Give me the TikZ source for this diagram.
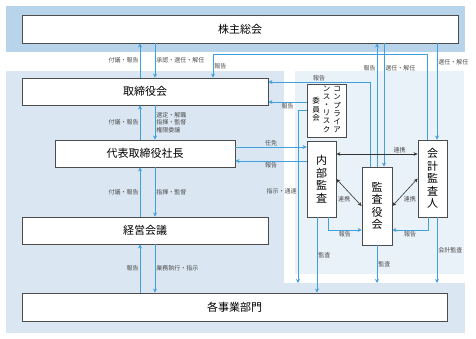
\documentclass[tikz,border=0pt]{standalone}
\usepackage{fontspec}
\setmainfont{Noto Sans CJK JP}
\usepackage{xcolor}
\usepackage{tikz}
\usetikzlibrary{arrows.meta, calc}

\definecolor{bandblue}{HTML}{B7D4EB}
\definecolor{panelblue}{HTML}{DAE7F3}
\definecolor{auditblue}{HTML}{E9F1F9}
\definecolor{flowblue}{HTML}{3FA0DC}

\begin{document}
\begin{tikzpicture}[
  x=1pt, y=-1pt,
  orgbox/.style={draw=black!70, fill=white, line width=0.8pt, inner sep=0pt, align=center, font=\fontsize{11}{12.5}\selectfont},
  flow/.style={flowblue, line width=0.8pt, -{Stealth[length=4pt,width=4pt]}},
  link/.style={black!80, line width=0.6pt, {Stealth[length=4pt,width=3.5pt]}-{Stealth[length=4pt,width=3.5pt]}},
  lab/.style={font=\fontsize{6}{7.5}\selectfont, inner sep=1pt, text=black!70}
]
\useasboundingbox (0,0) rectangle (476,339);
% background panels
\fill[bandblue] (6,6) rectangle (465,52);
\fill[panelblue] (6,71) rectangle (465,333);
\fill[white] (284,71) rectangle (465,283);
\fill[auditblue] (295,71) rectangle (464,274);

% organisation boxes
\node[orgbox, minimum width=436pt, minimum height=28pt] (sokai) at (240,29) {株主総会};
\node[orgbox, minimum width=246pt, minimum height=27pt] (torishimari) at (145,91.5) {取締役会};
\node[orgbox, minimum width=180pt, minimum height=27pt] (daihyo) at (145,153.5) {代表取締役社長};
\node[orgbox, minimum width=246pt, minimum height=27pt] (keiei) at (145,230.5) {経営会議};
\node[orgbox, minimum width=425pt, minimum height=28pt] (jigyo) at (234.5,307) {各事業部門};
\node[orgbox, minimum width=39pt, minimum height=53pt, font=\fontsize{7.5}{8}\selectfont] (compliance) at (326.5,110.5)
  {\begin{tabular}{@{}c@{}}委\\員\\会\end{tabular}\hspace{3pt}\begin{tabular}{@{}c@{}}ン\\ス\\・\\リ\\ス\\ク\end{tabular}\hspace{3pt}\begin{tabular}{@{}c@{}}コ\\ン\\プ\\ラ\\イ\\ア\end{tabular}};
\node[orgbox, minimum width=29pt, minimum height=76pt] (naibu) at (321.5,179) {内\\部\\監\\査};
\node[orgbox, minimum width=30pt, minimum height=78pt] (kansayaku) at (377,206) {監\\査\\役\\会};
\node[orgbox, minimum width=29pt, minimum height=77pt] (kaikei) at (432.5,178.5) {会\\計\\監\\査\\人};

% routing points
\coordinate (up) at (140,0);
\coordinate (down) at (155,0);
\coordinate (kk) at (427,54);
\coordinate (kt) at (213,54);
\coordinate (ks) at (437,0);
\coordinate (kup) at (377,0);
\coordinate (kdn) at (384,0);
\coordinate (ky) at (370,82);
\coordinate (crep) at (0,102);
\coordinate (cx) at (298,110);
\coordinate (cend) at (298,283);
\coordinate (ninmen) at (0,147);
\coordinate (nrep) at (0,161);
\coordinate (renkei) at (0,154);
\coordinate (nb) at (328,230);
\coordinate (kb) at (428,230);
\coordinate (na) at (317,0);
\coordinate (ka) at (377,283);
\coordinate (kka) at (437,283);

% left column
\draw[flow] (torishimari.north -| up) -- node[lab, left] {付議・報告} (sokai.south -| up);
\draw[flow] (sokai.south -| down) -- node[lab, right] {承認・選任・解任} (torishimari.north -| down);
\draw[flow] (daihyo.north -| up) -- node[lab, left] {付議・報告} (torishimari.south -| up);
\draw[flow] (torishimari.south -| down) -- node[lab, right, align=left, font=\fontsize{6}{7.5}\selectfont] {選定・解職\\指揮・監督\\権限委譲} (daihyo.north -| down);
\draw[flow] (keiei.north -| up) -- node[lab, left] {付議・報告} (daihyo.south -| up);
\draw[flow] (daihyo.south -| down) -- node[lab, right] {指揮・監督} (keiei.north -| down);
\draw[flow] (jigyo.north -| up) -- node[lab, left] {報告} (keiei.south -| up);
\draw[flow] (keiei.south -| down) -- node[lab, right] {業務執行・指示} (jigyo.north -| down);

% reports and appointments
\draw[flow] (kaikei.north -| kk) -- (kk) -- (kt) -- node[lab, right] {報告} (torishimari.north -| kt);
\draw[flow] (sokai.south -| ks) -- node[lab, right, pos=0.2] {選任・解任} (kaikei.north -| ks);
\draw[flow] (kansayaku.north -| kup) -- node[lab, left, pos=0.8] {報告} (sokai.south -| kup);
\draw[flow] (sokai.south -| kdn) -- node[lab, right, pos=0.2] {選任・解任} (kansayaku.north -| kdn);
\draw[flow] (kansayaku.north -| ky) -- (ky) -- node[lab, above] {報告} (torishimari.east |- ky);
\draw[flow] (compliance.west |- crep) -- node[lab, below] {報告} (torishimari.east |- crep);
\draw[flow] (compliance.west |- cx) -- (cx) -- node[lab, left, pos=0.47] {指示・通達} (cend);
\draw[flow] (daihyo.east |- ninmen) -- node[lab, above] {任免} (naibu.west |- ninmen);
\draw[flow] (naibu.west |- nrep) -- node[lab, below] {報告} (daihyo.east |- nrep);

% audit side
\draw[link] (naibu.east |- renkei) -- node[lab, above, pos=0.78] {連携} (kaikei.west |- renkei);
\draw[link] (naibu.east) -- node[lab, below left, pos=0.6] {連携} (kansayaku.west);
\draw[link] (kaikei.west) -- node[lab, below right, pos=0.6] {連携} (kansayaku.east);
\draw[flow] (naibu.south -| nb) -- (nb) -- node[lab, below] {報告} (kansayaku.west |- nb);
\draw[flow] (kaikei.south -| kb) -- (kb) -- node[lab, below] {報告} (kansayaku.east |- kb);
\draw[flow] (naibu.south -| na) -- node[lab, right] {監査} (jigyo.north -| na);
\draw[flow] (kansayaku.south) -- node[lab, right] {監査} (ka);
\draw[flow] (kaikei.south -| kka) -- node[lab, right] {会計監査} (kka);
\end{tikzpicture}
\end{document}
